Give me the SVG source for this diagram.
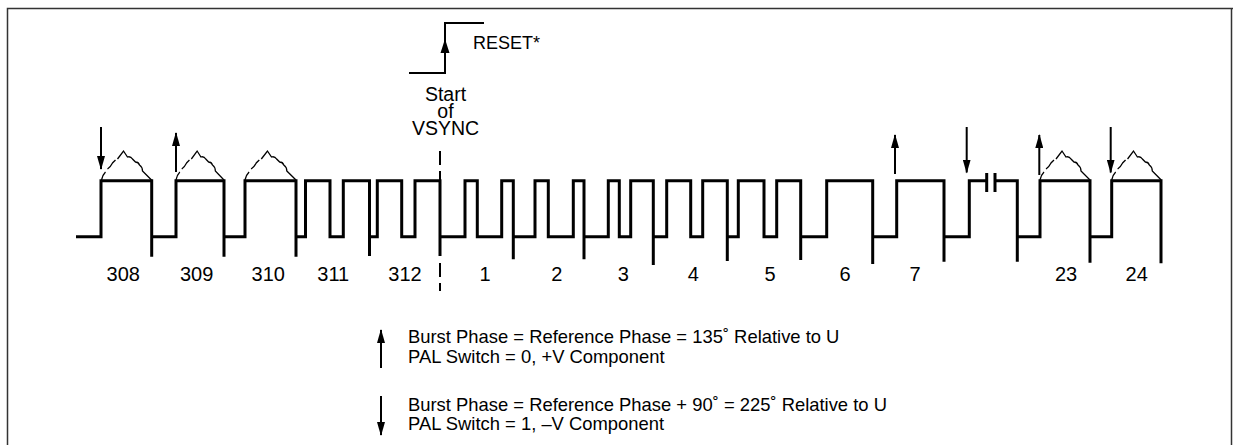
<svg xmlns="http://www.w3.org/2000/svg" width="1233" height="445" viewBox="0 0 1233 445">
<style>
text{font-family:"Liberation Sans",Arial,Helvetica,sans-serif;fill:#000}
.wave{fill:none;stroke:#000;stroke-width:3;stroke-linejoin:miter}
.lbl{font-size:20px;text-anchor:middle}
.leg{font-size:18.4px}
.shaft{stroke:#000;stroke-width:2}
.env{fill:none;stroke:#000;stroke-width:1.3}
.dash{stroke:#000;stroke-width:2;stroke-dasharray:14,6}
</style>
<defs>
<path id="env" d="M0,0 q1,-5 4,-8 M6,-11 q3,-2 5,-6 l3,-3 M16,-21 l6,-8 l4,6 q3,-1 5,2 l3,3 q3,0 4,3 q3,2 3,6 l3,3 l6,6"/>
<marker id="ah" viewBox="0 0 14 8" refX="13" refY="4" markerWidth="14" markerHeight="8" markerUnits="userSpaceOnUse" orient="auto">
<path d="M0,0 L14,4 L0,8 Z" fill="#000"/>
</marker>
</defs>
<g id="frame" fill="none">
<path d="M7.5,445 V8.5 H1233" stroke="#333" stroke-width="1.5"/>
<path d="M1231.5,8.5 V445" stroke="#333" stroke-width="1.5"/>
</g>
<g id="reset">
<path d="M409,73 H445 V23 H484" fill="none" stroke="#000" stroke-width="2"/>
<path d="M445,39 L440.5,53 L449.5,53 Z" fill="#000"/>
<text x="473" y="48.5" font-size="18">RESET*</text>
</g>
<g id="vsync-label" font-size="19.5" text-anchor="middle">
<text x="445.5" y="100.5">Start</text>
<text x="445.5" y="117.8">of</text>
<text x="445.5" y="135">VSYNC</text>
</g>
<g id="vsync-line">
<line class="dash" x1="440" y1="151" x2="440" y2="181"/>
<line class="dash" x1="440" y1="263" x2="440" y2="291"/>
</g>
<g id="waveform">
<path class="wave" d="M76,236.7 H101 V180.7 H151.7 V256.7
M151.7,236.7 H176 V180.7 H224 V256.7
M224,236.7 H245 V180.7 H296 V256.7
M296,236.7 H305.5 V180.7 H330 V236.7 H343.3 V180.7 H369.5 V256
M369.5,236.7 H377.3 V180.7 H401.7 V236.7 H415 V180.7 H440 V256
M440,236.7 H465 V180.7 H477.3 V236.7 H501.7 V180.7 H513.3 V259.3
M513.3,236.7 H535 V180.7 H548.3 V236.7 H573.3 V180.7 H584 V259.3
M584,236.7 H608.3 V180.7 H619.3 V236.7 H630.7 V180.7 H653.3 V265
M653.3,236.7 H666.7 V180.7 H690.7 V236.7 H702.7 V180.7 H727.3 V261
M727.3,236.7 H738.3 V180.7 H764 V236.7 H776.7 V180.7 H800.7 V260
M800.7,236.7 H826.7 V180.7 H872.7 V264
M872.7,236.7 H896.7 V180.7 H944 V261.7
M944,236.7 H969.3 V180.7 H986.7
M995,180.7 H1017.3 V261.7
M1017.3,236.7 H1040 V180.7 H1090 V262.7
M1090,236.7 H1111.7 V180.7 H1161 V263.3"/>
<path d="M986.7,173 V192 M995,173 V192" stroke="#000" stroke-width="3"/>
</g>
<g id="bursts" class="env">
<use href="#env" transform="translate(101.5,180)"/>
<use href="#env" transform="translate(176,180) scale(0.96,1)"/>
<use href="#env" transform="translate(245,180) scale(1.02,1)"/>
<use href="#env" transform="translate(1040,180)"/>
<use href="#env" transform="translate(1111.7,180) scale(0.99,1)"/>
</g>
<g id="phase-arrows">
<line class="shaft" x1="101" y1="127" x2="101" y2="169" marker-end="url(#ah)"/>
<line class="shaft" x1="176" y1="172" x2="176" y2="133" marker-end="url(#ah)"/>
<line class="shaft" x1="895" y1="174" x2="895" y2="135" marker-end="url(#ah)"/>
<line class="shaft" x1="966.7" y1="127" x2="966.7" y2="172.5" marker-end="url(#ah)"/>
<line class="shaft" x1="1039.3" y1="175" x2="1039.3" y2="135" marker-end="url(#ah)"/>
<line class="shaft" x1="1110.7" y1="127" x2="1110.7" y2="172.5" marker-end="url(#ah)"/>
</g>
<g id="line-numbers">
<text class="lbl" x="123.3" y="281">308</text>
<text class="lbl" x="196.7" y="281">309</text>
<text class="lbl" x="268.3" y="281">310</text>
<text class="lbl" x="333.3" y="281">311</text>
<text class="lbl" x="405" y="281">312</text>
<text class="lbl" x="485" y="281">1</text>
<text class="lbl" x="556.7" y="281">2</text>
<text class="lbl" x="623.3" y="281">3</text>
<text class="lbl" x="693.3" y="281">4</text>
<text class="lbl" x="770" y="281">5</text>
<text class="lbl" x="845" y="281">6</text>
<text class="lbl" x="915" y="281">7</text>
<text class="lbl" x="1066" y="281">23</text>
<text class="lbl" x="1136.7" y="281">24</text>
</g>
<g id="legend">
<line class="shaft" x1="381" y1="368" x2="381" y2="330" marker-end="url(#ah)"/>
<text class="leg" x="408" y="343.3">Burst Phase = Reference Phase = 135˚ Relative to U</text>
<text class="leg" x="408" y="363.3">PAL Switch = 0, +V Component</text>
<line class="shaft" x1="381" y1="396" x2="381" y2="435" marker-end="url(#ah)"/>
<text class="leg" x="408" y="410.7">Burst Phase = Reference Phase + 90˚ = 225˚ Relative to U</text>
<text class="leg" x="408" y="430">PAL Switch = 1, –V Component</text>
</g>
</svg>
